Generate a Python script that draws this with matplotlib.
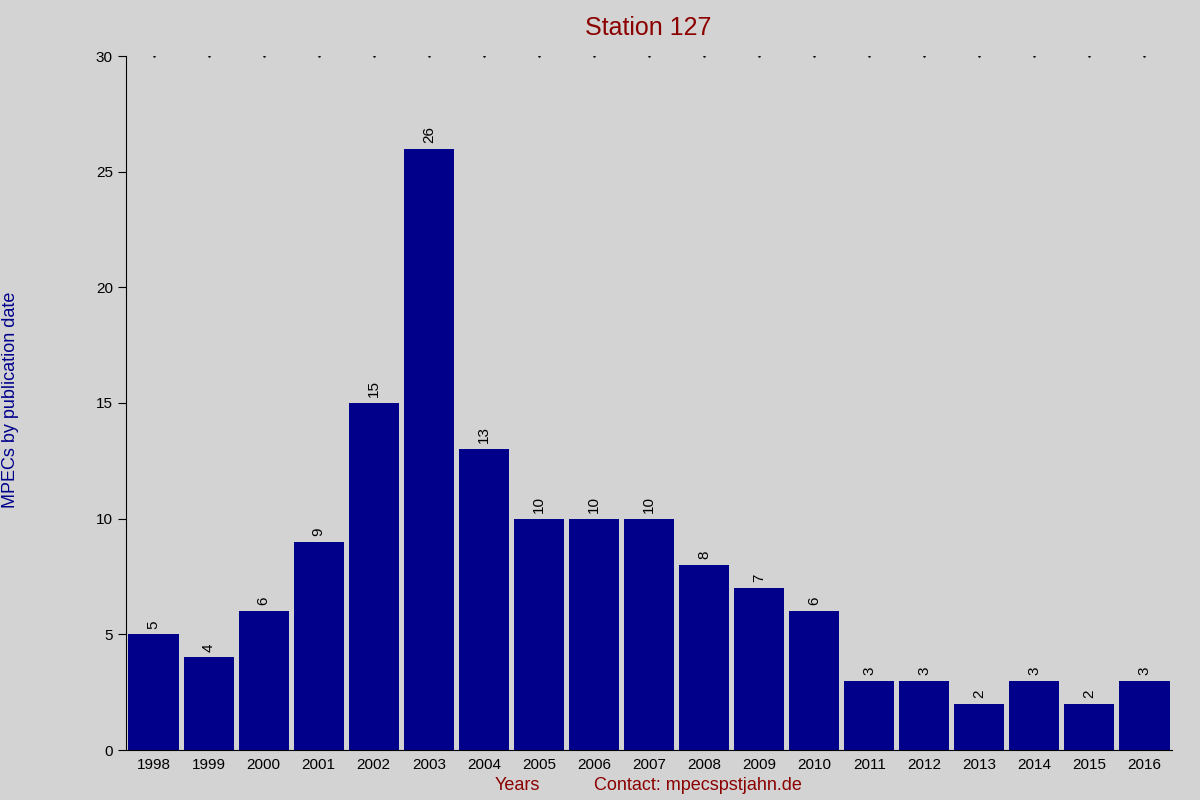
import matplotlib
matplotlib.use("Agg")
import matplotlib.pyplot as plt

years = [str(y) for y in range(1998, 2017)]
counts = [5, 4, 6, 9, 15, 26, 13, 10, 10, 10, 8, 7, 6, 3, 3, 2, 3, 2, 3]

bg = "#d3d3d3"
fig = plt.figure(figsize=(12, 8), dpi=100, facecolor=bg)
ax = fig.add_axes([126 / 1200, 50 / 800, 1046 / 1200, 694 / 800], facecolor=bg)

x = list(range(len(years)))
ax.bar(x, counts, width=0.91, color="#00008b")
for xi, c in zip(x, counts):
    ax.text(xi, c + 0.25, str(c), rotation=90, ha="center", va="bottom", fontsize=11, family="Liberation Sans")
    ax.plot(xi, 30, marker=".", markersize=1.5, color="black")

ax.set_xlim(-0.5, len(years) - 0.5)
ax.set_ylim(0, 30)
ax.set_xticks(x)
ax.set_xticklabels(years, fontsize=11, family="Liberation Sans")
ax.set_yticks(range(0, 31, 5))
ax.tick_params(axis="y", labelsize=11, direction="out", length=6)
ax.tick_params(axis="x", length=0, pad=6)
for lbl in ax.get_yticklabels():
    lbl.set_family("Liberation Sans")
for s in ("top", "right"):
    ax.spines[s].set_visible(False)

fig.text(0.54, 0.965, "Station 127", ha="center", va="center", color="#8b0000", fontsize=18, family="Liberation Sans")
fig.text(517 / 1200, 14 / 800, "Years", ha="center", va="center", color="#8b0000", fontsize=13, family="Liberation Sans")
fig.text(698 / 1200, 14 / 800, "Contact: mpecspstjahn.de", ha="center", va="center", color="#8b0000", fontsize=13, family="Liberation Sans")
fig.text(11 / 1200, 0.5, "MPECs by publication date", rotation=90, ha="center", va="center", color="#00008b", fontsize=13, family="Liberation Sans")

fig.savefig("out.png", dpi=100, facecolor=bg)
